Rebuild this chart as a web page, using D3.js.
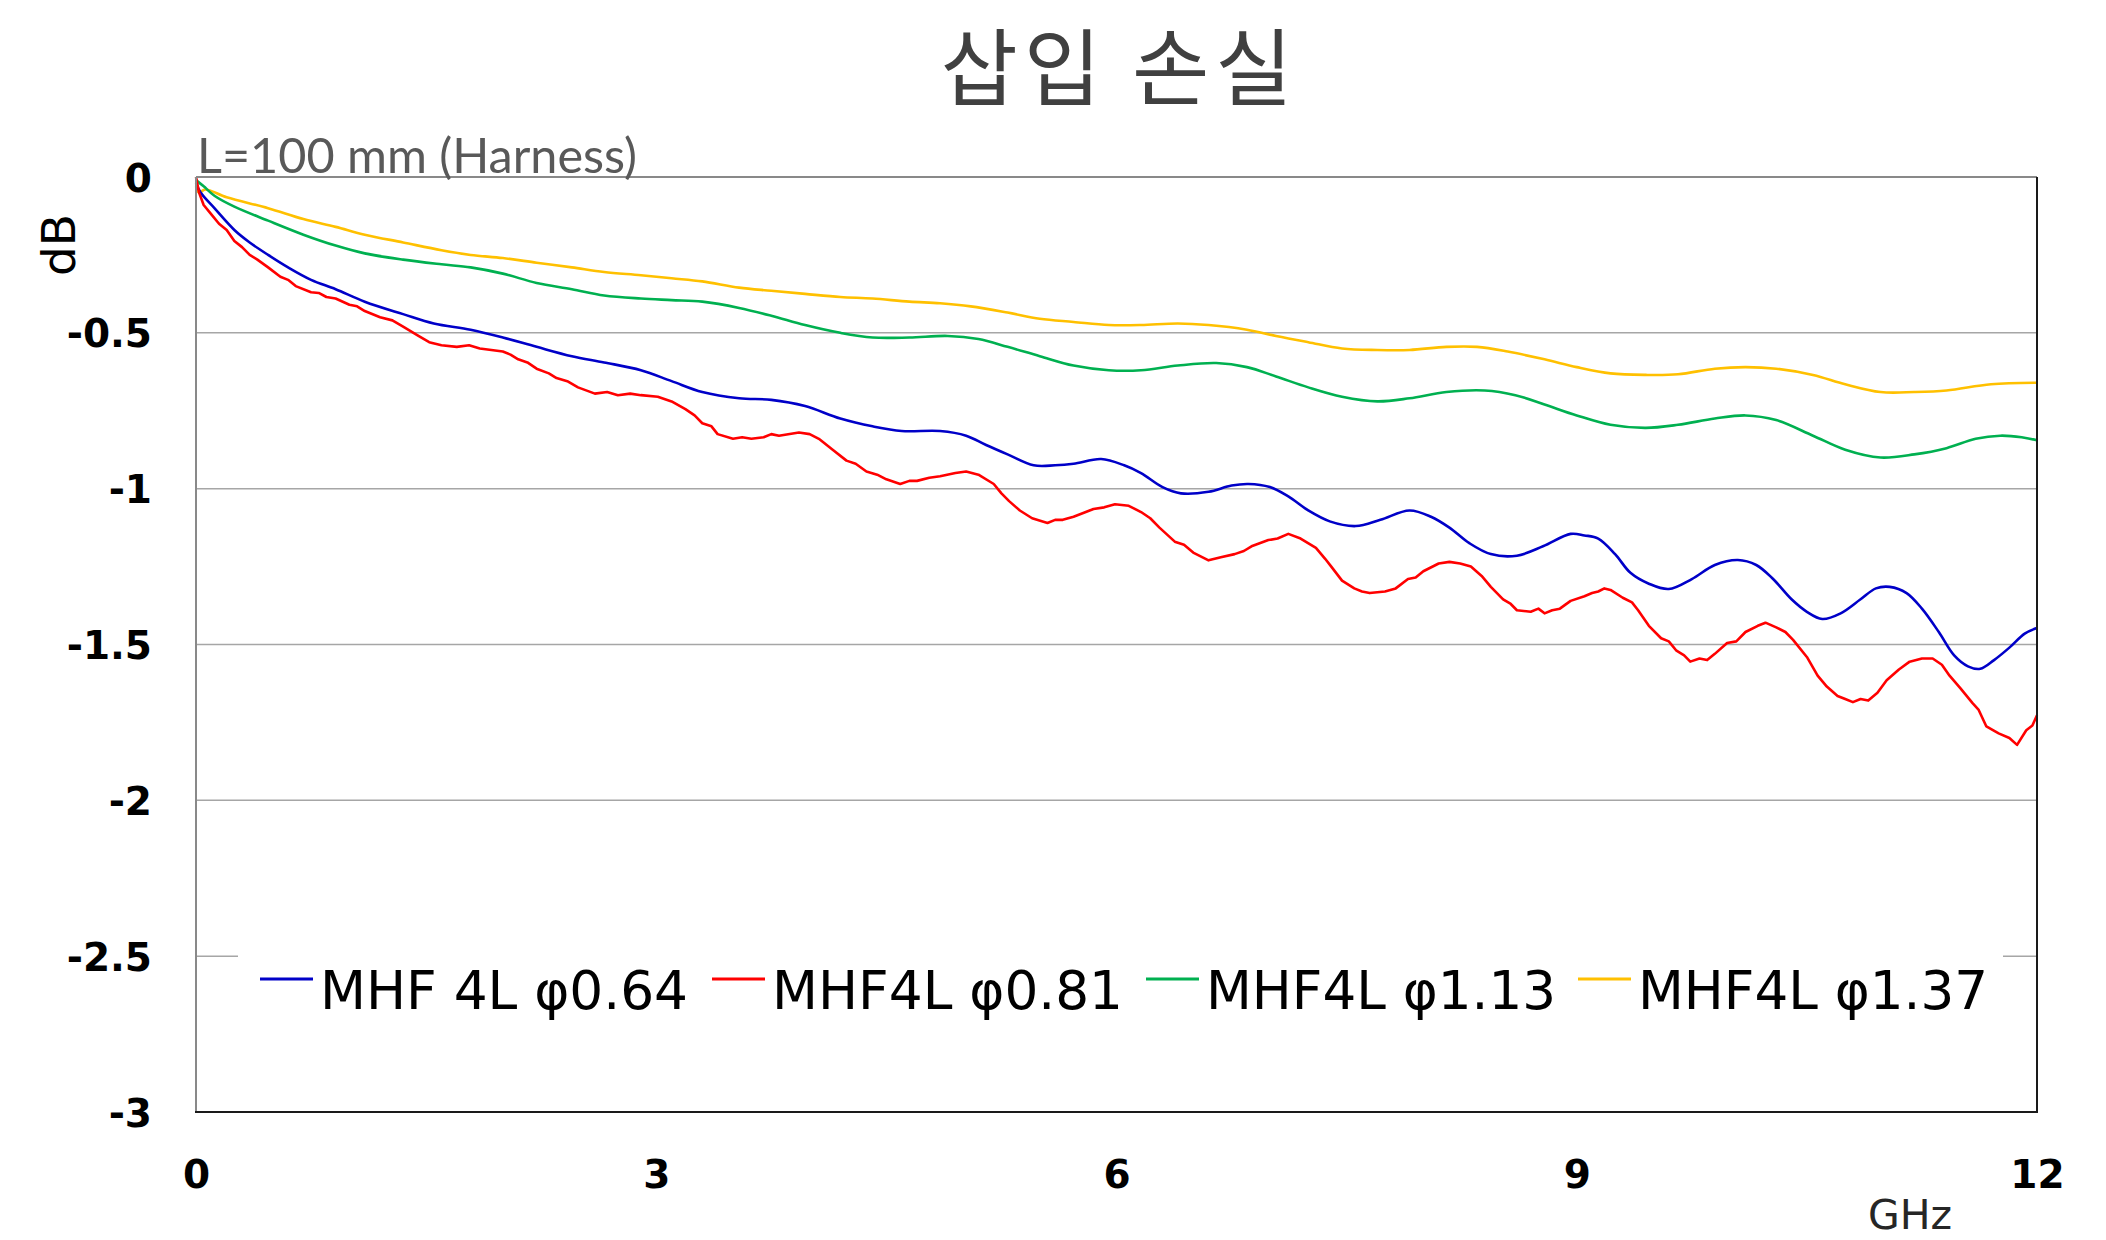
<!DOCTYPE html>
<html><head><meta charset="utf-8">
<script src="https://cdn.jsdelivr.net/npm/d3@7"></script>
<style>body{margin:0;background:#fff}svg{display:block}</style>
</head><body>
<script>
const title = "삽입 손실";
const subtitle = "L=100 mm (Harness)";
const yLabel = "dB";
const xLabel = "GHz";
const xTicks = [0, 3, 6, 9, 12];
const yTicks = [0, -0.5, -1, -1.5, -2, -2.5, -3];
const yTickLabels = ["0", "-0.5", "-1", "-1.5", "-2", "-2.5", "-3"];
const seriesNames = ["MHF 4L φ0.64", "MHF4L φ0.81", "MHF4L φ1.13", "MHF4L φ1.37"];
const seriesColors = ["#0000c8", "#ff0000", "#00b050", "#ffc000"];

const blue = [[0,-0.02],[0.03,-0.05],[0.12,-0.10],[0.25,-0.17],[0.35,-0.21],[0.47,-0.25],[0.6,-0.29],[0.75,-0.33],[0.91,-0.36],[1.1,-0.40],[1.35,-0.44],[1.55,-0.47],[1.79,-0.49],[2.0,-0.515],[2.22,-0.545],[2.45,-0.575],[2.66,-0.595],[2.9,-0.62],[3.1,-0.655],[3.3,-0.69],[3.54,-0.71],[3.75,-0.715],[3.97,-0.735],[4.2,-0.775],[4.41,-0.80],[4.6,-0.815],[4.85,-0.815],[5.02,-0.83],[5.15,-0.86],[5.29,-0.89],[5.46,-0.925],[5.6,-0.925],[5.72,-0.92],[5.9,-0.905],[6.05,-0.925],[6.16,-0.95],[6.3,-0.995],[6.42,-1.015],[6.6,-1.01],[6.75,-0.99],[6.86,-0.985],[7.0,-0.995],[7.12,-1.025],[7.25,-1.07],[7.39,-1.105],[7.56,-1.12],[7.72,-1.10],[7.91,-1.07],[8.05,-1.09],[8.17,-1.125],[8.3,-1.175],[8.44,-1.21],[8.61,-1.215],[8.78,-1.185],[8.96,-1.145],[9.05,-1.15],[9.14,-1.16],[9.25,-1.21],[9.35,-1.27],[9.47,-1.305],[9.6,-1.322],[9.75,-1.29],[9.9,-1.245],[10.05,-1.229],[10.17,-1.245],[10.28,-1.29],[10.4,-1.355],[10.5,-1.395],[10.6,-1.418],[10.72,-1.40],[10.85,-1.355],[10.95,-1.32],[11.04,-1.315],[11.15,-1.335],[11.25,-1.385],[11.36,-1.46],[11.46,-1.535],[11.55,-1.57],[11.63,-1.578],[11.72,-1.55],[11.82,-1.51],[11.92,-1.465],[12,-1.447]];

const red = [[0,0],[0.02,-0.05],[0.05,-0.09],[0.1,-0.12],[0.15,-0.15],[0.2,-0.17],[0.25,-0.205],[0.3,-0.225],[0.35,-0.25],[0.4,-0.265],[0.47,-0.29],[0.55,-0.32],[0.6,-0.33],[0.65,-0.35],[0.75,-0.37],[0.8,-0.372],[0.85,-0.385],[0.91,-0.39],[1.0,-0.41],[1.05,-0.415],[1.1,-0.43],[1.2,-0.45],[1.28,-0.46],[1.35,-0.48],[1.45,-0.51],[1.52,-0.53],[1.6,-0.54],[1.7,-0.545],[1.78,-0.54],[1.85,-0.55],[2.0,-0.56],[2.05,-0.57],[2.1,-0.585],[2.16,-0.595],[2.22,-0.615],[2.3,-0.63],[2.35,-0.645],[2.42,-0.655],[2.49,-0.675],[2.6,-0.695],[2.68,-0.69],[2.75,-0.70],[2.83,-0.695],[2.9,-0.70],[3.01,-0.705],[3.1,-0.72],[3.19,-0.745],[3.25,-0.765],[3.3,-0.79],[3.36,-0.8],[3.4,-0.825],[3.5,-0.84],[3.56,-0.835],[3.62,-0.84],[3.7,-0.835],[3.75,-0.825],[3.8,-0.83],[3.93,-0.82],[4.0,-0.825],[4.06,-0.84],[4.15,-0.875],[4.24,-0.91],[4.3,-0.92],[4.37,-0.945],[4.44,-0.955],[4.5,-0.97],[4.59,-0.985],[4.65,-0.975],[4.7,-0.975],[4.78,-0.965],[4.85,-0.96],[4.95,-0.95],[5.02,-0.945],[5.1,-0.955],[5.2,-0.985],[5.25,-1.015],[5.3,-1.04],[5.37,-1.07],[5.45,-1.095],[5.55,-1.11],[5.6,-1.1],[5.65,-1.10],[5.72,-1.09],[5.8,-1.075],[5.85,-1.065],[5.92,-1.06],[5.99,-1.05],[6.08,-1.055],[6.16,-1.075],[6.22,-1.095],[6.28,-1.125],[6.38,-1.17],[6.44,-1.18],[6.5,-1.205],[6.6,-1.23],[6.68,-1.22],[6.77,-1.21],[6.83,-1.2],[6.88,-1.185],[6.99,-1.165],[7.05,-1.16],[7.12,-1.145],[7.2,-1.16],[7.3,-1.19],[7.36,-1.225],[7.4,-1.25],[7.47,-1.295],[7.55,-1.32],[7.6,-1.33],[7.65,-1.335],[7.75,-1.33],[7.82,-1.32],[7.9,-1.29],[7.95,-1.285],[8.0,-1.265],[8.1,-1.24],[8.17,-1.235],[8.24,-1.24],[8.31,-1.25],[8.38,-1.28],[8.44,-1.315],[8.52,-1.355],[8.57,-1.37],[8.61,-1.39],[8.7,-1.395],[8.75,-1.385],[8.79,-1.40],[8.84,-1.39],[8.89,-1.385],[8.96,-1.36],[9.05,-1.345],[9.1,-1.335],[9.14,-1.33],[9.18,-1.32],[9.22,-1.325],[9.3,-1.35],[9.36,-1.365],[9.4,-1.39],[9.47,-1.44],[9.55,-1.48],[9.6,-1.49],[9.65,-1.52],[9.7,-1.535],[9.74,-1.555],[9.8,-1.545],[9.85,-1.55],[9.9,-1.53],[9.98,-1.495],[10.04,-1.49],[10.1,-1.46],[10.18,-1.44],[10.23,-1.43],[10.3,-1.445],[10.36,-1.46],[10.41,-1.485],[10.5,-1.54],[10.57,-1.6],[10.63,-1.635],[10.7,-1.665],[10.75,-1.675],[10.8,-1.685],[10.85,-1.675],[10.9,-1.68],[10.96,-1.655],[11.02,-1.615],[11.1,-1.58],[11.17,-1.555],[11.25,-1.545],[11.32,-1.545],[11.38,-1.565],[11.43,-1.6],[11.5,-1.64],[11.58,-1.688],[11.62,-1.71],[11.67,-1.763],[11.75,-1.785],[11.82,-1.80],[11.87,-1.822],[11.93,-1.775],[11.97,-1.76],[12,-1.727]];

const green = [[0,-0.01],[0.05,-0.03],[0.12,-0.06],[0.25,-0.095],[0.47,-0.14],[0.7,-0.185],[0.91,-0.22],[1.1,-0.245],[1.35,-0.265],[1.6,-0.28],[1.79,-0.29],[2.0,-0.31],[2.22,-0.34],[2.45,-0.36],[2.66,-0.38],[2.9,-0.39],[3.1,-0.395],[3.3,-0.40],[3.54,-0.42],[3.75,-0.445],[3.97,-0.475],[4.2,-0.50],[4.41,-0.515],[4.65,-0.515],[4.9,-0.51],[5.1,-0.52],[5.29,-0.545],[5.5,-0.575],[5.72,-0.605],[5.95,-0.62],[6.16,-0.62],[6.4,-0.605],[6.65,-0.597],[6.85,-0.61],[7.04,-0.64],[7.25,-0.675],[7.47,-0.705],[7.7,-0.72],[7.91,-0.71],[8.15,-0.69],[8.4,-0.685],[8.6,-0.70],[8.79,-0.73],[9.0,-0.765],[9.22,-0.795],[9.45,-0.805],[9.66,-0.795],[9.9,-0.775],[10.1,-0.765],[10.3,-0.78],[10.54,-0.83],[10.75,-0.875],[10.98,-0.9],[11.2,-0.89],[11.41,-0.87],[11.6,-0.84],[11.76,-0.83],[11.9,-0.835],[12,-0.845]];

const yellow = [[0,-0.03],[0.02,-0.05],[0.06,-0.04],[0.2,-0.065],[0.47,-0.10],[0.7,-0.135],[0.91,-0.16],[1.1,-0.185],[1.35,-0.21],[1.6,-0.235],[1.79,-0.25],[2.0,-0.26],[2.22,-0.275],[2.45,-0.29],[2.66,-0.305],[2.9,-0.315],[3.1,-0.325],[3.3,-0.335],[3.54,-0.355],[3.75,-0.365],[3.97,-0.375],[4.2,-0.385],[4.41,-0.39],[4.65,-0.40],[4.85,-0.405],[5.05,-0.415],[5.29,-0.435],[5.5,-0.455],[5.72,-0.465],[5.95,-0.475],[6.16,-0.475],[6.4,-0.47],[6.6,-0.475],[6.85,-0.49],[7.04,-0.51],[7.25,-0.53],[7.47,-0.55],[7.7,-0.555],[7.91,-0.555],[8.15,-0.545],[8.35,-0.545],[8.55,-0.56],[8.79,-0.585],[9.0,-0.61],[9.22,-0.63],[9.45,-0.635],[9.66,-0.633],[9.9,-0.615],[10.1,-0.61],[10.3,-0.615],[10.54,-0.635],[10.75,-0.665],[10.98,-0.69],[11.2,-0.69],[11.41,-0.685],[11.7,-0.665],[12,-0.66]];

const seriesData = [blue, red, green, yellow];

// layout
const W = 2106, H = 1240;
const L = 196, R = 2037, T = 177, B = 1112;
const svg = d3.select("body").append("svg").attr("width", W).attr("height", H);

const x = d3.scaleLinear().domain([0, 12]).range([L, R]);
const y = d3.scaleLinear().domain([-3, 0]).range([B, T]);

// gridlines
svg.append("g").selectAll("line").data(yTicks.filter(v => v !== 0 && v !== -3)).join("line")
  .attr("x1", L).attr("x2", R).attr("y1", d => y(d)).attr("y2", d => y(d))
  .attr("stroke", "#a6a6a6").attr("stroke-width", 1.5);

// axes
const yAxis = d3.axisLeft(y).tickValues(yTicks).tickSize(0).tickPadding(44)
  .tickFormat((d, i) => yTickLabels[i]);
const gy = svg.append("g").attr("transform", `translate(${L},0)`).call(yAxis);
gy.select(".domain").remove();
gy.selectAll("text").attr("font-family", "DejaVu Sans").attr("font-weight", "bold")
  .attr("font-size", 39).attr("fill", "#000").attr("dy", "0.36em");

const xAxis = d3.axisBottom(x).tickValues(xTicks).tickSize(0).tickPadding(48);
const gx = svg.append("g").attr("transform", `translate(0,${B})`).call(xAxis);
gx.select(".domain").remove();
gx.selectAll("text").attr("font-family", "DejaVu Sans").attr("font-weight", "bold")
  .attr("font-size", 39).attr("fill", "#000");

// series
const line = d3.line().x(d => x(d[0])).y(d => y(d[1])).curve(d3.curveCatmullRom.alpha(0.5));
const lineR = d3.line().x(d => x(d[0])).y(d => y(d[1]));
const order = [3, 2, 0, 1];
svg.append("g").selectAll("path").data(order).join("path")
  .attr("d", i => (i === 1 ? lineR : line)(seriesData[i]))
  .attr("fill", "none").attr("stroke", i => seriesColors[i]).attr("stroke-width", 2.6)
  .attr("stroke-linejoin", "round");

// frame
svg.append("line").attr("x1", L).attr("x2", L).attr("y1", T).attr("y2", B).attr("stroke", "#898989").attr("stroke-width", 2);
svg.append("line").attr("x1", L).attr("x2", R).attr("y1", T).attr("y2", T).attr("stroke", "#898989").attr("stroke-width", 2);
svg.append("line").attr("x1", L - 1).attr("x2", R + 1).attr("y1", B).attr("y2", B).attr("stroke", "#1a1a1a").attr("stroke-width", 2);
svg.append("line").attr("x1", R).attr("x2", R).attr("y1", T).attr("y2", B).attr("stroke", "#1a1a1a").attr("stroke-width", 2);

// legend
const lg = svg.append("g");
lg.append("rect").attr("x", 238).attr("y", 945).attr("width", 2003 - 238).attr("height", 90).attr("fill", "#fff");
const legX = [260, 712, 1146, 1578];
const legW = [368, 351, 350, 350];
seriesNames.forEach((n, i) => {
  lg.append("line").attr("x1", legX[i]).attr("x2", legX[i] + 53).attr("y1", 979).attr("y2", 979)
    .attr("stroke", seriesColors[i]).attr("stroke-width", 3);
  lg.append("text").attr("x", legX[i] + 60).attr("y", 1009).text(n)
    .attr("font-family", "DejaVu Sans Condensed, DejaVu Sans").attr("font-size", 54).attr("fill", "#000")
    .attr("textLength", legW[i]).attr("lengthAdjust", "spacingAndGlyphs");
});

// texts
svg.append("text").attr("x", (L + R) / 2 + 3).attr("y", 99).attr("text-anchor", "middle")
  .attr("font-family", "Noto Sans CJK KR").attr("font-size", 84).attr("letter-spacing", 6)
  .attr("fill", "#404040").text(title);
svg.append("text").attr("x", 197).attr("y", 173).text(subtitle)
  .attr("font-family", "Lato, Open Sans").attr("font-size", 48).attr("fill", "#595959")
  .attr("textLength", 440).attr("lengthAdjust", "spacingAndGlyphs");
svg.append("text").attr("transform", "translate(75,245) rotate(-90)").attr("text-anchor", "middle")
  .attr("font-family", "DejaVu Sans").attr("font-size", 47).attr("fill", "#000").text(yLabel);
svg.append("text").attr("x", 1868).attr("y", 1229).text(xLabel)
  .attr("font-family", "DejaVu Sans").attr("font-size", 41).attr("fill", "#262626");
</script>
</body></html>
